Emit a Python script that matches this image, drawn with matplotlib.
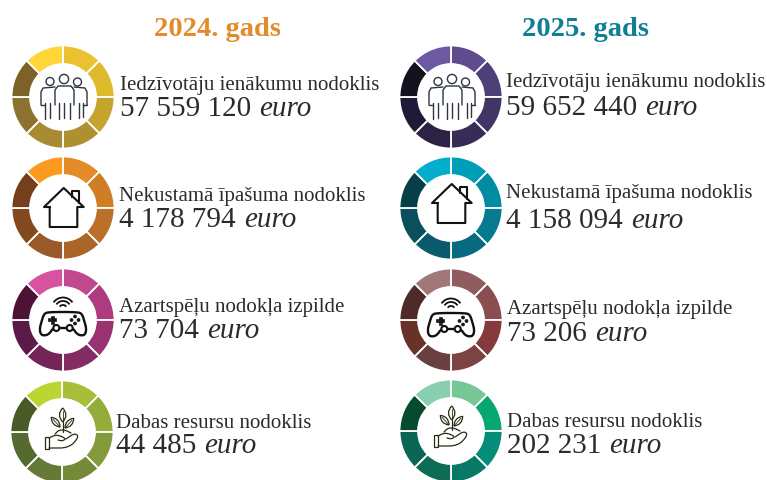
import numpy as np
import matplotlib
matplotlib.use("Agg")
import matplotlib.pyplot as plt
from matplotlib.patches import Arc, Circle, PathPatch, Rectangle
from matplotlib.path import Path
from matplotlib.transforms import Affine2D

W, H = 767, 480
FONT = "Liberation Serif"
TEXT = "#2B2B2B"

years = ["2024. gads", "2025. gads"]
year_colors = ["#E38B2A", "#0F7F95"]
taxes = [
    "Iedzīvotāju ienākumu nodoklis",
    "Nekustamā īpašuma nodoklis",
    "Azartspēļu nodokļa izpilde",
    "Dabas resursu nodoklis",
]
amounts_2024 = ["57 559 120", "4 178 794", "73 704", "44 485"]
amounts_2025 = ["59 652 440", "4 158 094", "73 206", "202 231"]
unit = "euro"

# ring colours, clockwise from 12 o'clock
rings_2024 = [
    ["#EAC230", "#DDB92C", "#C4A42C", "#AE9030", "#A88A33", "#8C7230", "#7C6128", "#FFD538"],
    ["#E38B26", "#CF7E26", "#BC6F28", "#AB6528", "#99592A", "#84481E", "#753F1B", "#FC9A1F"],
    ["#C0488F", "#AE3B7F", "#9A3272", "#832B62", "#742558", "#5B1A47", "#4D1337", "#D7539F"],
    ["#A6BE38", "#94AC3A", "#849B3B", "#748A38", "#667A38", "#556A2E", "#4A5A26", "#B9D633"],
]
rings_2025 = [
    ["#5F4C8D", "#4F3F78", "#423565", "#362C56", "#2B2244", "#201938", "#14121F", "#6D58A3"],
    ["#009DB8", "#038BA3", "#067B90", "#066B80", "#0A5A6C", "#0A4F5C", "#063F48", "#03ADCB"],
    ["#915C60", "#8A4E50", "#853B3D", "#7C4244", "#693F3F", "#673228", "#4F2A28", "#A07878"],
    ["#78C896", "#07A774", "#068D79", "#087964", "#0D6C56", "#0A6553", "#064A30", "#87CFAE"],
]
segments = [1] * 8

fig = plt.figure(figsize=(W / 100, H / 100), dpi=100)
ax = fig.add_axes([0, 0, 1, 1])


def set_limits():
    ax.set_xlim(0, W)
    ax.set_ylim(0, H)
    ax.set_aspect("auto")


def put_text(x, y, s, size, **kw):
    return ax.text(x, H - y, s, fontsize=size, family=FONT, va="baseline", **kw)


def ring(cx, cy, colors):
    ax.pie(segments, colors=colors, center=(cx, H - cy), radius=51.5, startangle=90,
           counterclock=False, frame=True,
           wedgeprops={"width": 18.5, "edgecolor": "white", "linewidth": 1.3})
    set_limits()


def local(cx, cy):
    # icon shapes are in pixels from the ring centre, y going down
    return Affine2D().scale(1, -1).translate(cx, H - cy) + ax.transData


def smooth(pts, closed=False, rounds=2):
    # corner cutting, so the icon outlines come out rounded
    pts = np.array(pts, dtype=float)
    for _ in range(rounds):
        a = pts if closed else pts[:-1]
        b = np.roll(pts, -1, axis=0) if closed else pts[1:]
        cut = np.empty((2 * len(a), 2))
        cut[0::2] = 0.75 * a + 0.25 * b
        cut[1::2] = 0.25 * a + 0.75 * b
        if not closed:
            cut = np.vstack([pts[0], cut, pts[-1]])
        pts = cut
    return pts


def line(tr, pts, color, lw, closed=False):
    pts = list(map(tuple, pts))
    if closed:
        pts.append(pts[0])
    xs, ys = zip(*pts)
    ax.plot(xs, ys, color=color, lw=lw, transform=tr, solid_joinstyle="round",
            solid_capstyle="round", scalex=False, scaley=False)


def people(tr):
    c = "#2C3540"
    for x, y, r in [(-13, -15.5, 4), (1, -18, 4.6), (14.5, -15, 4)]:
        ax.add_patch(Circle((x, y), r, fill=False, ec=c, lw=1.0, transform=tr))
    line(tr, [(-22, 8), (-22, -5), (-20, -9), (-8, -10)], c, 1.0)
    line(tr, [(24, 8), (24, -5), (22, -9), (11, -10)], c, 1.0)
    line(tr, [(-8, 8), (-8, -7), (-5, -11), (8, -11), (11, -7), (11, 8)], c, 1.0)
    for x0, y1 in [(-18.5, 22), (-13, 21), (-4, 22), (1.3, 21), (7, 22), (16, 21), (20, 20)]:
        line(tr, [(x0, 6), (x0, y1)], c, 1.0)
    line(tr, [(-22, 8), (-18.5, 8)], c, 1.0)
    line(tr, [(20, 8), (24, 8)], c, 1.0)


def house(tr):
    c = "#111111"
    line(tr, [(-13.3, -1), (-19, -1), (0.7, -20), (20.7, -1), (14.3, -1),
              (14.3, 19), (-13.3, 19)], c, 1.5, closed=True)
    line(tr, [(9.3, -11), (9.3, -16.7), (15.7, -16.7), (15.7, -5)], c, 1.5)


def gamepad(tr):
    c = "#111111"
    body = [(-15, -8), (15, -8), (19, -6), (21, 0), (23.5, 9), (22, 15), (17, 15.5),
            (13, 13), (10, 8), (-10, 8), (-13, 13), (-17, 15.5), (-22, 15), (-23.5, 9),
            (-21, 0), (-19, -6)]
    line(tr, smooth(body, closed=True), c, 1.7, closed=True)
    for x in (-6.7, 6.7):
        ax.add_patch(Circle((x, 8), 3, fc="white", ec=c, lw=1.5, transform=tr, zorder=3))
    ax.add_patch(Rectangle((-14, -1), 7, 2, fc="none", ec=c, lw=1.2, transform=tr))
    ax.add_patch(Rectangle((-11.5, -3.5), 2, 7, fc="none", ec=c, lw=1.2, transform=tr))
    for x, y in [(8.5, 0), (15.5, 0), (12, -3.5), (12, 3.5)]:
        ax.add_patch(Circle((x, y), 1.5, fc=c, ec=c, lw=0.5, transform=tr))
    for r in (4, 8, 11.5):
        ax.add_patch(Arc((0, -11), 2 * r, 2 * r, theta1=215, theta2=325, color=c, lw=1.3,
                         transform=tr))


def leaf(tr, base, length, width, angle, color):
    codes = [Path.MOVETO, Path.CURVE3, Path.CURVE3, Path.CURVE3, Path.CURVE3]
    verts = [(0, 0), (width, -length * 0.5), (0, -length), (-width, -length * 0.5), (0, 0)]
    place = Affine2D().rotate_deg(angle).translate(*base) + tr
    ax.add_patch(PathPatch(Path(verts, codes), fill=False, ec=color, lw=0.9, transform=place))
    line(place, [(0, 0), (0, -length * 0.8)], color, 0.6)


def plant(tr):
    c = "#2A2C10"
    leaf(tr, (0.7, -10), 14, 6.5, 0, c)
    leaf(tr, (-2, -5), 13, 5.5, -42, c)
    leaf(tr, (3, -4), 13, 5.5, 42, c)
    line(tr, [(0.7, -10), (0.7, 0)], c, 0.9)
    line(tr, smooth([(-7, 2), (-3, -2), (3, -2), (9, 1)]), c, 0.9)
    line(tr, smooth([(-13, 6), (-7, 3), (-1, 4), (4, 7), (0, 9), (-4, 8)]), c, 0.9)
    line(tr, smooth([(4, 7), (13, 1), (17, 5), (7, 16), (-13, 16)]), c, 0.9)
    ax.add_patch(Rectangle((-17, 5), 4, 12, fill=False, ec=c, lw=0.9, transform=tr))


icons = [people, house, gamepad, plant]

# geometry: ring centre, text x, label and number baselines
left_rows = [(63, 97, 120, 90, 116), (63, 208, 119, 201, 227),
             (63, 320, 119, 312, 338), (62, 432, 116, 428, 453)]
right_rows = [(451, 97, 506, 87, 115), (451, 208, 506, 198, 228),
              (451, 320, 507, 314, 341), (451, 431, 507, 427, 453)]
icon_shift = [0, -4, 1, -1]

set_limits()
renderer = fig.canvas.get_renderer()
for title, color, tx in zip(years, year_colors, (217, 586)):
    put_text(tx, 36, title, 20.5, color=color, weight="bold", ha="center")

for rows, rings, amounts, shifts in [(left_rows, rings_2024, amounts_2024, [0, 0, 0, 0]),
                                     (right_rows, rings_2025, amounts_2025, icon_shift)]:
    for i, (cx, cy, tx, by1, by2) in enumerate(rows):
        ring(cx, cy, rings[i])
        icons[i](local(cx, cy + shifts[i]))
        put_text(tx, by1, taxes[i], 15, color=TEXT)
        num = put_text(tx, by2, amounts[i], 21, color=TEXT)
        end = num.get_window_extent(renderer).x1
        put_text(end + 8, by2, unit, 21, color=TEXT, style="italic")

set_limits()
ax.axis("off")
fig.savefig("out.png", dpi=100, facecolor="white")
